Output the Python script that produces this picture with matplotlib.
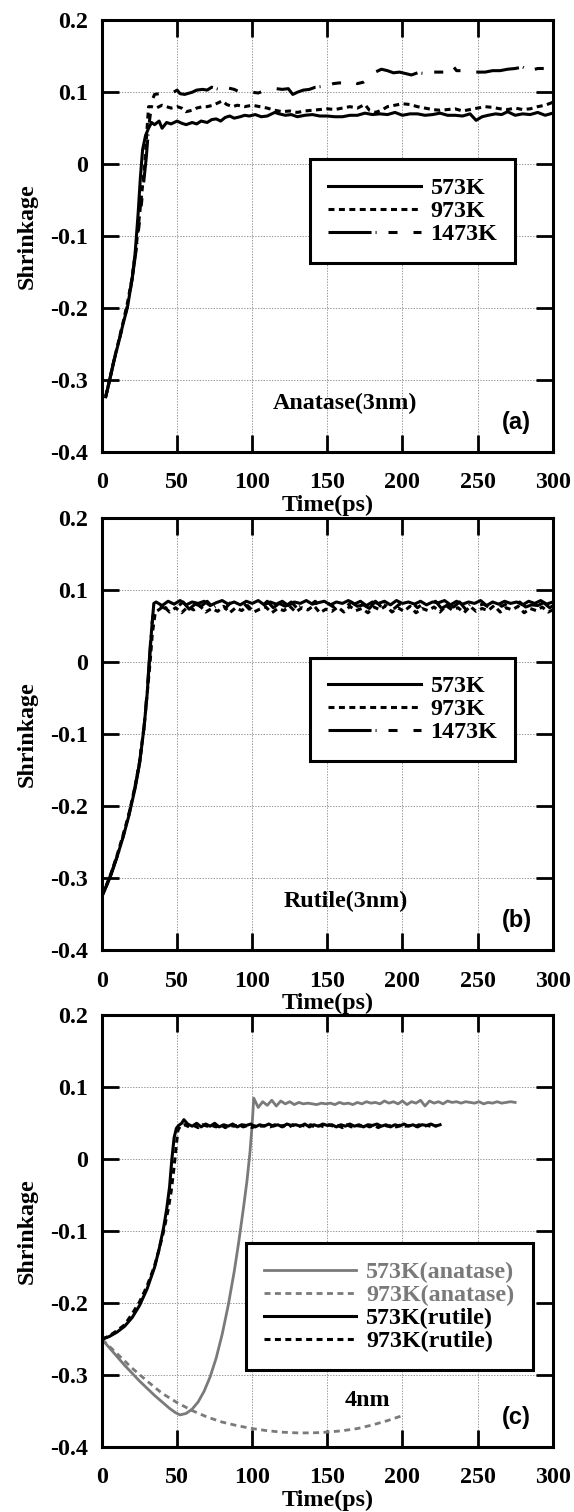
import numpy as np
import matplotlib.pyplot as plt
from matplotlib.lines import Line2D

plt.rcParams['font.family'] = ['Liberation Serif', 'DejaVu Serif']
plt.rcParams['font.weight'] = 'bold'
plt.rcParams['lines.scale_dashes'] = False

# ---------------- data ----------------
y_ticks = [-0.4, -0.3, -0.2, -0.1, 0, 0.1, 0.2]
y_tick_labels = ['-0.4', '-0.3', '-0.2', '-0.1', '0', '0.1', '0.2']
x_ticks = [0, 50, 100, 150, 200, 250, 300]
temps_3nm = ['573K', '973K', '1473K']

# panel (a) anatase 3nm
a573_t = [2.5, 5, 8, 11, 14, 17, 20, 22, 24, 25.5, 27, 29, 31,
          33, 35, 38, 40, 43, 46, 50, 53, 56, 60, 63, 66, 70, 73, 76, 79, 82, 85, 88, 92,
          95, 98, 102, 106, 110, 115, 118, 122, 126, 130, 135, 140, 145, 150, 155, 160,
          165, 170, 175, 180, 185, 190, 195, 200, 205, 210, 215, 220, 225, 230, 235, 240,
          245, 249, 253, 257, 262, 266, 270, 275, 280, 285, 290, 295, 300]
a573_y = [-0.323, -0.300, -0.272, -0.248, -0.222, -0.198, -0.160, -0.125, -0.070, -0.020, 0.020, 0.040, 0.050,
          0.058, 0.055, 0.060, 0.050, 0.058, 0.056, 0.060, 0.057, 0.055, 0.058, 0.056, 0.060, 0.058, 0.062, 0.063,
          0.060, 0.065, 0.067, 0.064, 0.066, 0.068, 0.067, 0.069, 0.066, 0.067, 0.072, 0.070, 0.068, 0.069,
          0.066, 0.068, 0.069, 0.067, 0.067, 0.066, 0.066, 0.068, 0.068, 0.071, 0.069, 0.070, 0.069, 0.072,
          0.068, 0.070, 0.070, 0.068, 0.069, 0.071, 0.068, 0.068, 0.067, 0.070, 0.061, 0.066, 0.068, 0.070,
          0.069, 0.073, 0.068, 0.070, 0.069, 0.072, 0.068, 0.071]

a973_t = [2.5, 5, 8, 11, 14, 17, 20, 23, 25, 27, 28.5, 30, 31,
          33, 36, 40, 43, 46, 50, 53, 56, 60, 63, 67, 70, 74, 77, 80, 83, 87, 90, 95, 100,
          105, 110, 115, 120, 125, 130, 135, 140, 145, 150, 155, 160, 165, 170, 175, 178,
          182, 186, 190, 195, 200, 205, 210, 215, 220, 225, 230, 235, 240, 245, 250, 255,
          260, 265, 270, 275, 280, 285, 290, 295, 300]
a973_y = [-0.322, -0.300, -0.272, -0.246, -0.220, -0.192, -0.158, -0.110, -0.070, -0.030, 0.000, 0.050, 0.080,
          0.080, 0.078, 0.082, 0.080, 0.078, 0.080, 0.078, 0.073, 0.075, 0.078, 0.080, 0.080, 0.082, 0.085,
          0.088, 0.083, 0.080, 0.082, 0.080, 0.082, 0.080, 0.078, 0.075, 0.073, 0.074, 0.072, 0.074, 0.075,
          0.076, 0.077, 0.076, 0.078, 0.080, 0.078, 0.083, 0.075, 0.072, 0.075, 0.080, 0.082, 0.084, 0.083,
          0.080, 0.078, 0.076, 0.075, 0.076, 0.077, 0.074, 0.076, 0.078, 0.080, 0.079, 0.077, 0.076, 0.078,
          0.076, 0.077, 0.080, 0.082, 0.086]

a1473_t = [2.5, 5, 8, 11, 14, 17, 20, 23, 25.5, 27.5, 29.5, 31, 32.5, 34,
           35, 38, 42, 46, 50, 52, 55, 60, 63, 67, 70, 73, 76, 80, 84, 88, 92, 96, 100,
           104, 108, 112, 116, 120, 124, 127, 130, 134, 138, 142, 146, 150, 154, 158, 162,
           166, 170, 174, 178, 182, 186, 190, 194, 198, 202, 206, 210, 215, 220, 225, 230,
           233, 236, 240, 244, 250, 255, 260, 265, 270, 275, 280, 285, 290, 295, 300]
a1473_y = [-0.323, -0.301, -0.273, -0.248, -0.222, -0.196, -0.160, -0.115, -0.070, -0.030, 0.010, 0.050, 0.075, 0.092,
           0.097, 0.098, 0.100, 0.098, 0.103, 0.098, 0.097, 0.100, 0.103, 0.104, 0.103, 0.107, 0.105, 0.103,
           0.106, 0.104, 0.100, 0.100, 0.100, 0.099, 0.102, 0.104, 0.105, 0.104, 0.105, 0.097, 0.100, 0.103,
           0.104, 0.107, 0.108, 0.109, 0.112, 0.113, 0.112, 0.115, 0.112, 0.114, 0.120, 0.128, 0.132, 0.130,
           0.127, 0.128, 0.126, 0.124, 0.127, 0.126, 0.128, 0.128, 0.128, 0.138, 0.130, 0.130, 0.128, 0.128,
           0.128, 0.130, 0.130, 0.132, 0.133, 0.135, 0.130, 0.133, 0.133, 0.138]

# panel (b) rutile 3nm: rise then noisy plateau sampled every 4 ps
b573_rise_t = [0, 3, 6, 10, 14, 18, 22, 25, 28, 30, 31.5, 33, 34.5]
b573_rise_y = [-0.325, -0.310, -0.295, -0.270, -0.243, -0.212, -0.175, -0.140, -0.090, -0.045, 0.000, 0.045, 0.082]
b973_rise_t = [0, 3, 6, 10, 14, 18, 22, 25, 28, 30, 32, 33.5, 35.5]
b973_rise_y = [-0.323, -0.309, -0.293, -0.268, -0.240, -0.210, -0.172, -0.138, -0.090, -0.045, 0.000, 0.040, 0.070]
b1473_rise_t = [0, 3, 6, 10, 14, 18, 22, 25, 28, 30, 31.5, 33, 35]
b1473_rise_y = [-0.324, -0.310, -0.294, -0.270, -0.242, -0.210, -0.173, -0.140, -0.088, -0.042, 0.003, 0.050, 0.080]

b573_plateau = [0.084, 0.079, 0.085, 0.081, 0.086, 0.080, 0.084, 0.082, 0.085, 0.079, 0.083, 0.086, 0.081, 0.084,
                0.080, 0.085, 0.082, 0.086, 0.080, 0.084, 0.081, 0.085, 0.079, 0.084, 0.082, 0.086, 0.081, 0.083,
                0.085, 0.080, 0.084, 0.082, 0.086, 0.081, 0.085, 0.079, 0.084, 0.082, 0.085, 0.080, 0.086, 0.082,
                0.084, 0.081, 0.085, 0.080, 0.084, 0.083, 0.086, 0.080, 0.085, 0.081, 0.084, 0.082, 0.086, 0.079,
                0.084, 0.081, 0.085, 0.082, 0.084, 0.080, 0.085, 0.082, 0.086, 0.081, 0.084]
b973_plateau = [0.072, 0.078, 0.070, 0.076, 0.069, 0.077, 0.073, 0.079, 0.070, 0.075, 0.071, 0.078, 0.069, 0.076,
                0.072, 0.079, 0.070, 0.074, 0.077, 0.069, 0.075, 0.072, 0.078, 0.070, 0.076, 0.073, 0.079, 0.069,
                0.074, 0.071, 0.077, 0.070, 0.078, 0.072, 0.075, 0.069, 0.077, 0.073, 0.079, 0.070, 0.076, 0.071,
                0.078, 0.069, 0.075, 0.072, 0.077, 0.070, 0.079, 0.073, 0.076, 0.069, 0.078, 0.071, 0.075, 0.072,
                0.079, 0.070, 0.076, 0.073, 0.078, 0.069, 0.075, 0.072, 0.077, 0.070, 0.074]
b1473_plateau = [0.080, 0.075, 0.083, 0.077, 0.084, 0.074, 0.081, 0.078, 0.085, 0.076, 0.082, 0.075, 0.084, 0.079,
                 0.083, 0.074, 0.080, 0.077, 0.085, 0.076, 0.082, 0.078, 0.084, 0.075, 0.081, 0.079, 0.085, 0.074,
                 0.083, 0.077, 0.082, 0.076, 0.084, 0.078, 0.080, 0.075, 0.085, 0.077, 0.083, 0.074, 0.081, 0.079,
                 0.084, 0.076, 0.082, 0.078, 0.085, 0.075, 0.080, 0.077, 0.084, 0.074, 0.083, 0.079, 0.081, 0.076,
                 0.085, 0.078, 0.082, 0.075, 0.084, 0.077, 0.080, 0.079, 0.083, 0.076, 0.081]

# panel (c) 4nm
c_labels = ['573K(anatase)', '973K(anatase)', '573K(rutile)', '973K(rutile)']
ca573_rise_t = [0, 5, 10, 15, 20, 25, 30, 35, 40, 45, 49, 52, 56, 60, 64, 68, 72, 76, 80, 84, 88, 91,
                94, 96.5, 98.5, 100, 101]
ca573_rise_y = [-0.250, -0.262, -0.274, -0.286, -0.297, -0.308, -0.318, -0.328, -0.337, -0.346, -0.352, -0.355,
                -0.353, -0.347, -0.337, -0.322, -0.302, -0.276, -0.243, -0.203, -0.156, -0.115, -0.070,
                -0.030, 0.010, 0.050, 0.085]
ca573_plateau = [0.072, 0.080, 0.075, 0.082, 0.074, 0.081, 0.077, 0.080, 0.076, 0.079, 0.077, 0.078, 0.077,
                 0.076, 0.078, 0.077, 0.078, 0.076, 0.079, 0.077, 0.078, 0.076, 0.079, 0.077, 0.080, 0.078,
                 0.079, 0.077, 0.081, 0.078, 0.080, 0.077, 0.081, 0.076, 0.080, 0.078, 0.082, 0.074, 0.081,
                 0.078, 0.080, 0.077, 0.081, 0.079, 0.080, 0.078, 0.080, 0.079, 0.078, 0.080, 0.077, 0.079,
                 0.078, 0.080, 0.078, 0.079, 0.080, 0.079]   # every 3 ps from 104 ps

ca973_t = [0, 10, 20, 30, 40, 50, 60, 70, 80, 90, 100, 110, 120, 130, 140, 150, 160, 170, 180, 190, 200]
ca973_y = [-0.250, -0.270, -0.290, -0.308, -0.325, -0.338, -0.349, -0.358, -0.365, -0.370, -0.374, -0.377,
           -0.379, -0.380, -0.380, -0.379, -0.377, -0.374, -0.369, -0.363, -0.356]

cr573_rise_t = [0, 5, 10, 15, 20, 25, 30, 35, 38, 41, 43, 45, 46.5, 48, 49.5, 51, 53, 54.5]
cr573_rise_y = [-0.250, -0.246, -0.240, -0.232, -0.220, -0.203, -0.180, -0.150, -0.125, -0.095, -0.070, -0.038,
                0.000, 0.030, 0.043, 0.047, 0.050, 0.055]
cr573_plateau = [0.049, 0.046, 0.050, 0.045, 0.049, 0.046, 0.050, 0.045, 0.048, 0.046, 0.049, 0.045, 0.048,
                 0.047, 0.049, 0.045, 0.048, 0.046, 0.049, 0.046, 0.048, 0.045, 0.049, 0.047, 0.048, 0.046,
                 0.049, 0.045, 0.048, 0.046, 0.049, 0.047, 0.048, 0.045, 0.048, 0.046, 0.049, 0.046, 0.048,
                 0.045, 0.048, 0.047, 0.049, 0.046, 0.048, 0.045, 0.048, 0.046, 0.049, 0.046, 0.048, 0.045,
                 0.048, 0.047, 0.049, 0.046, 0.048]   # every 3 ps from 57 ps

cr973_rise_t = [0, 5, 10, 15, 20, 25, 30, 35, 38, 41, 44, 46, 48, 49.5, 50.5, 52]
cr973_rise_y = [-0.250, -0.245, -0.238, -0.230, -0.215, -0.198, -0.176, -0.148, -0.125, -0.100, -0.070,
                -0.045, -0.010, 0.020, 0.040, 0.046]
cr973_plateau = [0.048, 0.045, 0.047, 0.044, 0.048, 0.046, 0.047, 0.045, 0.048, 0.044, 0.047, 0.046, 0.048,
                 0.045, 0.047, 0.044, 0.048, 0.046, 0.047, 0.045, 0.048, 0.046, 0.047, 0.044, 0.048, 0.045,
                 0.047, 0.046, 0.048, 0.044, 0.047, 0.045, 0.048, 0.046, 0.047, 0.044, 0.048, 0.045, 0.047,
                 0.046, 0.048, 0.045, 0.047, 0.044, 0.048, 0.046, 0.047, 0.045, 0.048, 0.046, 0.047, 0.045,
                 0.048, 0.046, 0.047, 0.045, 0.047]   # every 3 ps from 55 ps

# ---------------- styles ----------------
SOLID = '-'
DOTTED = (0, (4.3, 3.2))
DASHDOT = (0, (31, 2.9, 0.7, 8.6, 6.5, 11.5, 5.8, 11.5))
GRAY = '#7a7a7a'
LW = 2.2
FS = 17.3


def plateau_t(start, step, values):
    return list(start + step * np.arange(len(values)))


def style_axes(ax):
    ax.set_xlim(0, 300)
    ax.set_ylim(-0.4, 0.2)
    ax.set_xticks(x_ticks)
    ax.set_yticks(y_ticks)
    ax.set_yticklabels(y_tick_labels)
    ax.grid(True, color='#888888', linestyle=(0, (1, 1)), linewidth=0.6)
    ax.set_axisbelow(True)
    ax.tick_params(direction='in', length=12, width=2, top=True, right=True, labelsize=FS)
    ax.tick_params(axis='y', pad=10)
    ax.tick_params(axis='x', pad=14.5)
    for sp in ax.spines.values():
        sp.set_linewidth(2.2)
    ax.set_xlabel('Time(ps)', fontsize=FS, fontweight='bold')
    ax.set_ylabel('Shrinkage', fontsize=FS, fontweight='bold')
    ax.xaxis.set_label_coords(0.5, -0.122)
    ax.xaxis.label.set_va('center')
    ax.yaxis.set_label_coords(-0.165, 0.5)
    ax.yaxis.label.set_va('center')


def add_legend(ax, handles, labels, anchor, colors=None):
    leg = ax.legend(handles, labels, loc='upper left', bbox_to_anchor=anchor, borderaxespad=0,
                    fancybox=False, framealpha=1, edgecolor='black', handlelength=3.85,
                    handletextpad=0.42, borderpad=0.75, labelspacing=0.05,
                    prop={'family': 'Liberation Serif', 'weight': 'bold', 'size': FS})
    leg.get_frame().set_linewidth(2.2)
    if colors:
        for txt, c in zip(leg.get_texts(), colors):
            txt.set_color(c)
    return leg


fig = plt.figure(figsize=(5.74, 15.12), dpi=100)
left, width, height = 0.1777, 0.7852, 0.2857
ax_a = fig.add_axes([left, 0.7009, width, height])
ax_b = fig.add_axes([left, 0.3714, width, height])
ax_c = fig.add_axes([left, 0.0428, width, height])

# (a)
ax_a.plot(a573_t, a573_y, color='black', lw=LW, linestyle=SOLID)
ax_a.plot(a973_t, a973_y, color='black', lw=LW, linestyle=DOTTED)
ax_a.plot(a1473_t, a1473_y, color='black', lw=LW, linestyle=DASHDOT)
style_axes(ax_a)
h3 = [Line2D([], [], color='black', lw=LW, linestyle=s) for s in (SOLID, DOTTED, DASHDOT)]
add_legend(ax_a, h3, temps_3nm, (0.4615, 0.678))
ax_a.text(162, -0.332, 'Anatase(3nm)', ha='center', va='center', fontsize=FS, fontweight='bold')
ax_a.text(276, -0.359, '(a)', ha='center', va='center', fontsize=17, fontweight='bold',
          family='Liberation Sans')

# (b)
ax_b.plot(b573_rise_t + plateau_t(36, 4, b573_plateau), b573_rise_y + b573_plateau,
          color='black', lw=LW, linestyle=SOLID)
ax_b.plot(b973_rise_t + plateau_t(37, 4, b973_plateau), b973_rise_y + b973_plateau,
          color='black', lw=LW, linestyle=DOTTED)
ax_b.plot(b1473_rise_t + plateau_t(38, 4, b1473_plateau), b1473_rise_y + b1473_plateau,
          color='black', lw=LW, linestyle=DASHDOT)
style_axes(ax_b)
add_legend(ax_b, h3, temps_3nm, (0.4615, 0.678))
ax_b.text(162, -0.332, 'Rutile(3nm)', ha='center', va='center', fontsize=FS, fontweight='bold')
ax_b.text(276, -0.359, '(b)', ha='center', va='center', fontsize=17, fontweight='bold',
          family='Liberation Sans')

# (c)
ax_c.plot(ca573_rise_t + plateau_t(104, 3, ca573_plateau), ca573_rise_y + ca573_plateau,
          color=GRAY, lw=2.0, linestyle=SOLID)
ax_c.plot(ca973_t, ca973_y, color=GRAY, lw=2.0, linestyle=DOTTED)
ax_c.plot(cr573_rise_t + plateau_t(57, 3, cr573_plateau), cr573_rise_y + cr573_plateau,
          color='black', lw=LW, linestyle=SOLID)
ax_c.plot(cr973_rise_t + plateau_t(55, 3, cr973_plateau), cr973_rise_y + cr973_plateau,
          color='black', lw=LW, linestyle=DOTTED)
style_axes(ax_c)
h4 = [Line2D([], [], color=GRAY, lw=2.0, linestyle=SOLID),
      Line2D([], [], color=GRAY, lw=2.0, linestyle=DOTTED),
      Line2D([], [], color='black', lw=LW, linestyle=SOLID),
      Line2D([], [], color='black', lw=LW, linestyle=DOTTED)]
add_legend(ax_c, h4, c_labels, (0.319, 0.472), colors=[GRAY, GRAY, 'black', 'black'])
ax_c.text(177, -0.335, '4nm', ha='center', va='center', fontsize=FS, fontweight='bold')
ax_c.text(276, -0.359, '(c)', ha='center', va='center', fontsize=17, fontweight='bold',
          family='Liberation Sans')

fig.savefig('out.png', dpi=100)
